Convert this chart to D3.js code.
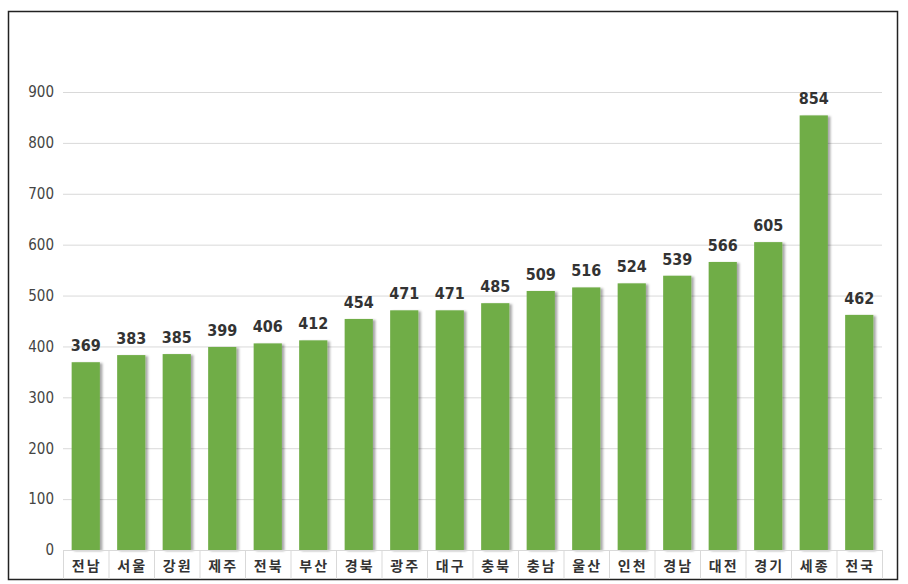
<!DOCTYPE html>
<html>
<head>
<meta charset="utf-8">
<script src="https://cdn.jsdelivr.net/npm/d3@7"></script>
<style>
  body { margin: 0; background: #fff; }
  svg { display: block; }
</style>
</head>
<body>
<svg id="chart" width="908" height="584"></svg>
<script>
// regions and values
const regions = ["전남", "서울", "강원", "제주", "전북", "부산", "경북", "광주", "대구", "충북", "충남", "울산", "인천", "경남", "대전", "경기", "세종", "전국"];
const values = [369, 383, 385, 399, 406, 412, 454, 471, 471, 485, 509, 516, 524, 539, 566, 605, 854, 462];
const yTicks = [0, 100, 200, 300, 400, 500, 600, 700, 800, 900];

const svg = d3.select("#chart");
const margin = { left: 63, right: 26, top: 92, bottom: 34 };
const width = 908, height = 584;
const plotBottom = 550;
const numFont = "'Liberation Sans Narrow', 'DejaVu Sans Condensed', sans-serif";

// outer frame
svg.append("rect")
  .attr("x", 8.5).attr("y", 11.5)
  .attr("width", 889).attr("height", 568)
  .attr("fill", "#fff")
  .attr("stroke", "#222")
  .attr("stroke-width", 1.5);

const x = d3.scaleBand()
  .domain(regions)
  .range([margin.left, width - margin.right])
  .paddingInner(0.38)
  .paddingOuter(0.19);

const y = d3.scaleLinear()
  .domain([0, 900])
  .range([plotBottom, margin.top]);

// shadow for the bars
const defs = svg.append("defs");
const f = defs.append("filter").attr("id", "shadow")
  .attr("x", "-20%").attr("y", "-5%").attr("width", "150%").attr("height", "110%");
f.append("feDropShadow")
  .attr("dx", 2.5).attr("dy", 1)
  .attr("stdDeviation", 1.2)
  .attr("flood-color", "#000")
  .attr("flood-opacity", 0.35);

// gridlines
svg.append("g")
  .selectAll("line")
  .data(yTicks.slice(1))
  .enter().append("line")
  .attr("x1", margin.left).attr("x2", width - margin.right)
  .attr("y1", d => y(d) + 0.5).attr("y2", d => y(d) + 0.5)
  .attr("stroke", "#d9d9d9");

// y axis labels
const yAxis = d3.axisLeft(y).tickValues(yTicks).tickSize(0).tickPadding(9);
const gy = svg.append("g")
  .attr("transform", `translate(${margin.left},0)`)
  .call(yAxis);
gy.select(".domain").remove();
gy.selectAll("text")
  .attr("fill", "#444")
  .style("font-family", numFont)
  .style("font-size", "15px");

// bars
svg.append("g")
  .selectAll("rect")
  .data(values)
  .enter().append("rect")
  .attr("x", (d, i) => x(regions[i]))
  .attr("y", d => y(d))
  .attr("width", x.bandwidth())
  .attr("height", d => plotBottom - y(d))
  .attr("fill", "#70ad47")
  .attr("filter", "url(#shadow)");

// value labels
svg.append("g")
  .selectAll("text")
  .data(values)
  .enter().append("text")
  .attr("x", (d, i) => x(regions[i]) + x.bandwidth() / 2)
  .attr("y", d => y(d) - 11)
  .attr("text-anchor", "middle")
  .attr("fill", "#333")
  .style("font-family", numFont)
  .style("font-weight", "bold")
  .style("font-size", "16px")
  .text(d => d);

// category cells under the axis
const cellLeft = i => margin.left + i * (width - margin.left - margin.right) / regions.length;
const cells = svg.append("g");
cells.append("line")
  .attr("x1", margin.left).attr("x2", width - margin.right)
  .attr("y1", plotBottom + 0.5).attr("y2", plotBottom + 0.5)
  .attr("stroke", "#d9d9d9");
cells.selectAll("line.sep")
  .data(d3.range(regions.length + 1))
  .enter().append("line")
  .attr("class", "sep")
  .attr("x1", i => cellLeft(i) + 0.5).attr("x2", i => cellLeft(i) + 0.5)
  .attr("y1", plotBottom).attr("y2", 579)
  .attr("stroke", "#d9d9d9");
cells.selectAll("text")
  .data(regions)
  .enter().append("text")
  .attr("x", d => x(d) + x.bandwidth() / 2 + 1)
  .attr("y", 571)
  .attr("text-anchor", "middle")
  .attr("fill", "#333")
  .style("font-family", "'Noto Sans CJK KR', sans-serif")
  .style("font-weight", "bold")
  .style("font-size", "14px")
  .style("letter-spacing", "2px")
  .text(d => d);
</script>
</body>
</html>
